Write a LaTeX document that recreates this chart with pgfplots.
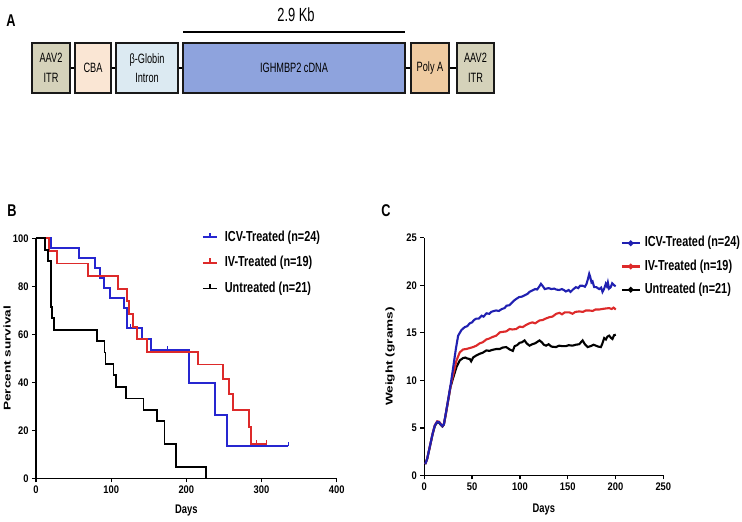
\documentclass[border=0pt]{standalone}
\usepackage{fontspec}
\setmainfont{Liberation Sans}
\newfontfamily\narrowfont[FakeStretch=0.68]{Liberation Sans}
\newfontfamily\condfont[FakeStretch=0.75]{Liberation Sans}
\newfontfamily\tickfont[FakeStretch=0.85]{Liberation Sans}
\usepackage{pgfplots}
\pgfplotsset{compat=1.18}

\definecolor{itr}{HTML}{D5D2BA}
\definecolor{cba}{HTML}{FAE6D4}
\definecolor{glob}{HTML}{DCEAF2}
\definecolor{cdna}{HTML}{8EA3DD}
\definecolor{polya}{HTML}{EFCBA1}
\definecolor{icvblue}{HTML}{2626D0}
\definecolor{ivred}{HTML}{DD2A2A}

% censoring tick: short stroke pointing up
\pgfdeclareplotmark{censor}{%
  \pgfpathmoveto{\pgfpoint{0pt}{0pt}}%
  \pgfpathlineto{\pgfpoint{0pt}{4.5pt}}%
  \pgfusepathqstroke}

\pgfplotsset{
  panel/.style={
    scale only axis,
    clip=false,
    axis x line=bottom, axis y line=left,
    axis line style={-, line width=1.5pt, black},
    tick align=outside,
    major tick length=4pt,
    every tick/.style={black, line width=1.3pt},
    ticklabel style={font=\tickfont\bfseries\fontsize{11}{12}\selectfont},
    /pgf/number format/assume math mode=true,
    xlabel style={font=\condfont\bfseries\fontsize{12.5}{13}\selectfont, anchor=center},
    ylabel style={font=\bfseries\fontsize{13.6}{14}\selectfont, anchor=center},
    legend cell align=left,
    legend style={draw=none, fill=none, inner sep=0pt, outer sep=0pt,
      anchor=north west,
      nodes={inner sep=1pt, text height=10.5pt, text depth=3pt},
      font=\condfont\bfseries\fontsize{14.5}{15}\selectfont},
  },
}

\begin{document}
\begin{tikzpicture}
\begin{scope}[x=1pt,y=1pt]
\useasboundingbox (0,0) rectangle (742,522);
% ---- panel A: vector map
\node[font=\condfont\bfseries\fontsize{17}{17}\selectfont] at (11,501) {A};
\node[font=\narrowfont\fontsize{19}{20}\selectfont] at (296,507) {2.9 Kb};
\draw[line width=2.2pt] (183,490) -- (405,490);
\draw[line width=1.2pt] (70,454) -- (457,454);
\begin{scope}[line width=2.6pt, draw=black!90]
\filldraw[fill=itr] (32,429) rectangle (70,479);
\filldraw[fill=cba] (75,429) rectangle (111,479);
\filldraw[fill=glob] (116,429) rectangle (178,479);
\filldraw[fill=cdna] (183,429) rectangle (405,479);
\filldraw[fill=polya] (411,429) rectangle (449,479);
\filldraw[fill=itr] (457,429) rectangle (494,479);
\end{scope}
\begin{scope}[every node/.style={font=\narrowfont\fontsize{13.5}{19.5}\selectfont, align=center}]
\node at (51,454) {AAV2\\ITR};
\node at (93,454) {CBA};
\node at (147,454) {β-Globin\\Intron};
\node at (294,454) {IGHMBP2 cDNA};
\node at (430,454) {Poly A};
\node at (475.5,454) {AAV2\\ITR};
\end{scope}
\node[font=\condfont\bfseries\fontsize{17}{17}\selectfont] at (12,311) {B};
\node[font=\condfont\bfseries\fontsize{17}{17}\selectfont] at (386,311) {C};
\end{scope}

% ---- panel B: survival
\begin{axis}[panel,
  at={(36pt,43.7pt)}, anchor=south west,
  width=300.7pt, height=240pt,
  xmin=0, xmax=400, ymin=0, ymax=100,
  xtick={0,100,...,400}, ytick={0,20,...,100},
  xlabel={Days}, ylabel={\scalebox{1}[0.72]{Percent survival}},
  xlabel style={at={(axis description cs:0.5,-0.136)}},
  ylabel style={at={(axis description cs:-0.096,0.5)}},
  legend style={at={(axis description cs:0.552,1.036)}, row sep=10pt, column sep=6pt},
  legend image code/.code={
    \draw[#1] (0pt,0pt) -- (14pt,0pt);
    \draw[#1] (7pt,0pt) -- (7pt,4.5pt);},
]
\addplot[icvblue, line width=1.9pt, const plot] coordinates {
  (0,100) (20,95.8) (57,91.7) (79,87.5) (85,83.3) (91,79.2) (98.4,75)
  (117.5,70.8) (120.6,62.5) (140.6,58.0) (152.6,53.3) (204,39.8)
  (238,26.5) (253.7,13.3) (335.7,13.3)};
\addlegendentry{ICV-Treated (n=24)}
\addplot[icvblue, line width=1.4pt, only marks, mark=censor, forget plot] coordinates {
  (126,62.5) (154,53.3) (174.7,53.3) (335.7,13.3)};
\addplot[ivred, line width=1.9pt, const plot] coordinates {
  (0,100) (16.8,94.7) (27.9,89.5) (69.6,84.2) (108.6,78.9) (120.6,73.7)
  (124.2,68.4) (129.5,63.2) (134,57.9) (147.2,52.6) (215,47.4)
  (249.2,41.4) (256.7,35.3) (262.5,28.4) (283.4,21.2) (286,14.2) (306.9,14.2)};
\addlegendentry{IV-Treated (n=19)}
\addplot[ivred, line width=1.4pt, only marks, mark=censor, forget plot] coordinates {
  (293.6,14.2) (306.9,14.2)};
\addplot[black, line width=1.7pt, const plot] coordinates {
  (0,100) (12,95.2) (16.4,90.5) (19.5,71.4) (21.7,66.7) (24.4,61.9)
  (80.7,57.1) (91,52.4) (92.5,47.6) (103,42.9) (106,38.1) (120,33.3)
  (143,28.6) (161,23.8) (171,14.3) (186,4.76) (226,0)};
\addlegendentry{Untreated (n=21)}
\end{axis}

% ---- panel C: weight
\begin{axis}[panel,
  at={(424.3pt,46.5pt)}, anchor=south west,
  width=239pt, height=237.8pt,
  xmin=0, xmax=250, ymin=0, ymax=25,
  xtick={0,50,...,250}, ytick={0,5,...,25},
  xlabel={Days}, ylabel={\scalebox{1}[0.72]{Weight (grams)}},
  xlabel style={at={(axis description cs:0.5,-0.145)}},
  ylabel style={at={(axis description cs:-0.1435,0.5)}},
  legend style={at={(axis description cs:0.8218,1.0095)}, row sep=7.8pt, column sep=3pt},
  reverse legend,
  legend image code/.code={
    \draw[#1] (0pt,0pt) -- (18pt,0pt);
    \fill[#1] (9pt,0pt) circle (1.6pt);},
]
\addplot[black, line width=2.1pt] coordinates {
  (1,1.2) (3,1.75) (6,3.1) (8.7,4.35) (11,5.2) (13.5,5.6) (15.5,5.55)
  (17.4,5.3) (19,5.15) (20.5,5.35) (22.6,6.5) (25,7.9) (27.4,9.3)
  (30,10.2) (33.7,11.4) (37.1,12.1) (40.6,12.35) (43,12.4) (45,12.3)
  (47.5,12.25) (49,12.0) (51,12.4) (54,12.6) (58,12.8) (61,12.9)
  (64.9,13.15) (68,13.1) (71,13.2) (75.3,13.3) (78.9,13.3) (82,13.45)
  (85.7,13.5) (89.3,13.25) (92.6,13.1) (94.5,13.6) (97,13.7) (99.7,13.95)
  (102,14.0) (104.9,14.2) (107,13.9) (110.1,13.65) (113,13.8) (116,13.9)
  (120.5,14.2) (123,14.0) (125,13.75) (127.4,13.65) (130,13.8) (133,13.55)
  (137.8,13.5) (141,13.65) (144,13.6) (148.2,13.6) (151,13.7) (155,13.65)
  (158.6,13.75) (162,13.8) (165.6,14.2) (168,13.8) (170.8,13.5) (174,13.6)
  (177,13.75) (179.5,13.65) (182,13.55) (184.7,13.5) (186,13.8) (188.2,14.45)
  (190,14.3) (191.5,14.6) (193.4,14.7) (195,14.5) (196.8,14.35) (198.5,14.75)
  (200.3,14.8)};
\addlegendentry{Untreated (n=21)}
\addplot[ivred, line width=2.1pt] coordinates {
  (1,1.2) (3,1.75) (6,3.15) (8.7,4.4) (11,5.3) (13.5,5.7) (15.5,5.65)
  (17.4,5.4) (19,5.2) (20.5,5.4) (22.6,6.55) (25,7.95) (27.4,9.35)
  (30,10.5) (33.7,12.1) (37.1,12.95) (40.6,13.25) (44,13.3) (47.5,13.4)
  (51,13.5) (54.5,13.65) (58,13.9) (61,14.0) (64.9,14.3) (68,14.4)
  (71,14.55) (75.3,14.7) (78.9,15.05) (82,15.1) (85.7,15.15) (89.3,15.4)
  (92,15.35) (96.1,15.4) (99.7,15.65) (103,15.6) (106,15.8) (110,16.0)
  (113,16.1) (116,16.0) (120.5,16.3) (124,16.35) (127,16.5) (131,16.65)
  (134,16.7) (138,17.0) (141.4,17.1) (144,16.95) (147,17.15) (151.8,17.15)
  (155,17.0) (158,17.2) (162.2,17.25) (166,17.2) (169,17.35) (172.6,17.35)
  (176,17.3) (179,17.45) (183,17.45) (186,17.5) (189,17.55) (193.4,17.6)
  (196,17.5) (198,17.65) (200.3,17.45)};
\addlegendentry{IV-Treated (n=19)}
\addplot[icvblue!85!black, line width=2.1pt] coordinates {
  (1,1.2) (3,1.75) (6,3.15) (8.7,4.4) (11,5.25) (13.5,5.65) (15.5,5.6)
  (17.4,5.35) (19,5.2) (20.5,5.4) (22.6,6.6) (25,8.0) (27.4,9.45)
  (30,11.2) (33,13.3) (35.4,14.7) (38.9,15.3) (42.3,15.6) (45,15.7)
  (47.5,16.0) (50,16.1) (52,16.35) (54.5,16.5) (57,16.5) (60,16.8)
  (62,16.7) (65,17.05) (68,17.0) (70,17.2) (73,17.3) (75,17.35) (78,17.3)
  (81,17.5) (84,17.6) (86,17.85) (89,17.9) (92,18.2) (94,18.4) (96,18.55)
  (99,18.75) (102,18.8) (105,18.95) (108,19.1) (110,19.3) (113,19.45)
  (116,19.6) (118,19.55) (120.5,19.9) (122,20.15) (124,19.9) (126,19.6)
  (130,19.7) (133,19.6) (136,19.65) (138,19.55) (141,19.5) (144,19.6)
  (146,19.5) (148,19.35) (151,19.5) (153,19.3) (156,19.6) (158.6,19.8)
  (161,19.7) (163,19.95) (165.6,19.95) (168,19.85) (169.7,20.15) (171,20.6)
  (172.5,21.2) (173.5,20.9) (174.9,20.3) (176,20.4) (177.7,19.8) (180,19.8)
  (182.9,19.6) (185,19.75) (186.4,19.3) (188,19.6) (189.8,20.15) (191,19.9)
  (192,20.3) (193.3,19.65) (195,19.8) (196.5,20.2) (198.5,20.0) (200.2,19.9)};
\addlegendentry{ICV-Treated (n=24)}
\end{axis}
\end{tikzpicture}
\end{document}
